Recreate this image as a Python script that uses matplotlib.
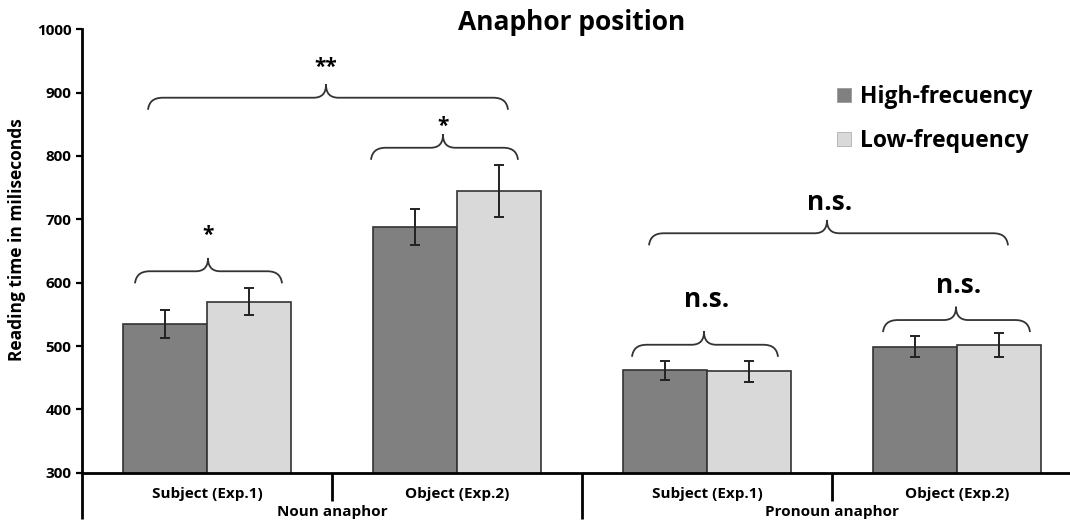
import matplotlib
matplotlib.use("Agg")
import matplotlib.pyplot as plt
from matplotlib.path import Path
from matplotlib.patches import PathPatch, Patch
import numpy as np

# ---- data -------------------------------------------------------------
positions = ["Subject (Exp.1)", "Object (Exp.2)", "Subject (Exp.1)", "Object (Exp.2)"]
anaphor_types = ["Noun anaphor", "Pronoun anaphor"]
series_names = ["High-frecuency", "Low-frequency"]
high_freq = [535, 688, 462, 499]
low_freq = [570, 745, 460, 501]
high_err = [22, 28, 15, 17]
low_err = [21, 41, 17, 19]
sig_labels = ["*", "*", "**", "n.s.", "n.s.", "n.s."]

# ---- style ------------------------------------------------------------
FONT = ["Open Sans", "DejaVu Sans"]
plt.rcParams["font.family"] = FONT
plt.rcParams["font.weight"] = "bold"
DARK = "#808080"
LIGHT = "#d9d9d9"
EDGE = "#333333"
W, H = 1070, 521

fig = plt.figure(figsize=(W / 100, H / 100), dpi=100)
ax = fig.add_axes([82 / W, 48.3 / H, (W - 82) / W, 443.4 / H])

x = np.arange(len(positions))
bw = 0.336
ax.bar(x - bw / 2, high_freq, bw, color=DARK, edgecolor=EDGE, linewidth=1.2, zorder=2)
ax.bar(x + bw / 2, low_freq, bw, color=LIGHT, edgecolor=EDGE, linewidth=1.2, zorder=2)
ax.errorbar(x - bw / 2, high_freq, yerr=high_err, fmt="none", ecolor="#222222",
            elinewidth=1.4, capsize=3.5, capthick=1.4, zorder=3)
ax.errorbar(x + bw / 2, low_freq, yerr=low_err, fmt="none", ecolor="#222222",
            elinewidth=1.4, capsize=3.5, capthick=1.4, zorder=3)

ax.set_ylim(300, 1000)
ax.set_xlim(-0.5, (W - 82) / 250 - 0.5)
ax.set_yticks(np.arange(300, 1001, 100))
ax.tick_params(axis="y", length=4.5, width=1.6, pad=3, labelsize=11)
ax.set_xticks([])
for lab in ax.get_yticklabels():
    lab.set_fontweight("bold")
for side in ("top", "right"):
    ax.spines[side].set_visible(False)
for side in ("left", "bottom"):
    ax.spines[side].set_linewidth(2.0)
    ax.spines[side].set_color("black")

# category separators below the axis
tr = ax.get_xaxis_transform()
for xs, depth in ((-0.5, -0.105), (0.5, -0.064), (1.5, -0.105), (2.5, -0.064)):
    ax.plot([xs, xs], [0, depth], transform=tr, color="black", lw=2.0,
            clip_on=False, solid_capstyle="butt")
for xi, lab in zip(x, positions):
    ax.text(xi, -0.048, lab, transform=tr, ha="center", va="center",
            fontsize=11, fontweight="bold")
for xi, lab in zip([0.5, 2.5], anaphor_types):
    ax.text(xi, -0.089, lab, transform=tr, ha="center", va="center",
            fontsize=11, fontweight="bold")


def brace(x0, x1, xm, y, arm=19, tip=21, dx=0.06, dt=0.05):
    verts = [
        (x0, y - arm),
        (x0 + 0.004, y - arm * 0.35), (x0 + dx * 0.35, y), (x0 + dx, y),
        (xm - dt, y),
        (xm - dt * 0.3, y), (xm, y + tip * 0.35), (xm, y + tip),
        (xm, y + tip * 0.35), (xm + dt * 0.3, y), (xm + dt, y),
        (x1 - dx, y),
        (x1 - dx * 0.35, y), (x1 - 0.004, y - arm * 0.35), (x1, y - arm),
    ]
    codes = [Path.MOVETO,
             Path.CURVE4, Path.CURVE4, Path.CURVE4,
             Path.LINETO,
             Path.CURVE4, Path.CURVE4, Path.CURVE4,
             Path.CURVE4, Path.CURVE4, Path.CURVE4,
             Path.LINETO,
             Path.CURVE4, Path.CURVE4, Path.CURVE4]
    ax.add_patch(PathPatch(Path(verts, codes), fill=False, edgecolor=EDGE,
                           lw=1.3, clip_on=False, zorder=4))


# brackets: (left, right, tip, level, label y, font size)
brackets = [
    (-0.288, 0.300, 0.004, 618, 675, 15),
    (0.656, 1.244, 0.944, 813, 847, 15),
    (-0.236, 1.204, 0.476, 892, 940, 15),
    (1.768, 3.204, 2.480, 678, 726, 19),
    (1.700, 2.284, 1.988, 502, 574, 19),
    (2.704, 3.292, 2.996, 541, 596, 19),
]
for (x0, x1, xm, lvl, ty, fs), lab in zip(brackets, sig_labels):
    brace(x0, x1, xm, lvl)
    tx = xm + (0.01 if lab == "n.s." else 0)
    ax.text(tx, ty, lab, ha="center", va="center", fontsize=fs,
            fontweight="bold", zorder=5)

# legend
handles = [Patch(facecolor=DARK, edgecolor="#9a9a9a", lw=0.6),
           Patch(facecolor=LIGHT, edgecolor="#b0b0b0", lw=0.6)]
ax.legend(handles, series_names, loc="upper left", frameon=False,
          bbox_to_anchor=(837 / W, 1 - 85 / H), bbox_transform=fig.transFigure,
          prop={"family": FONT, "weight": "bold", "size": 16.5},
          handlelength=0.61, handleheight=0.61, handletextpad=0.39,
          labelspacing=0.88, borderaxespad=0, borderpad=0)

fig.text(572 / W, 1 - 22 / H, "Anaphor position", ha="center", va="center",
         fontsize=19, fontweight="bold")
fig.text(17 / W, 1 - 240 / H, "Reading time in miliseconds", rotation=90,
         ha="center", va="center", fontsize=12.5, fontweight="bold")

fig.savefig("out.png", dpi=100)
